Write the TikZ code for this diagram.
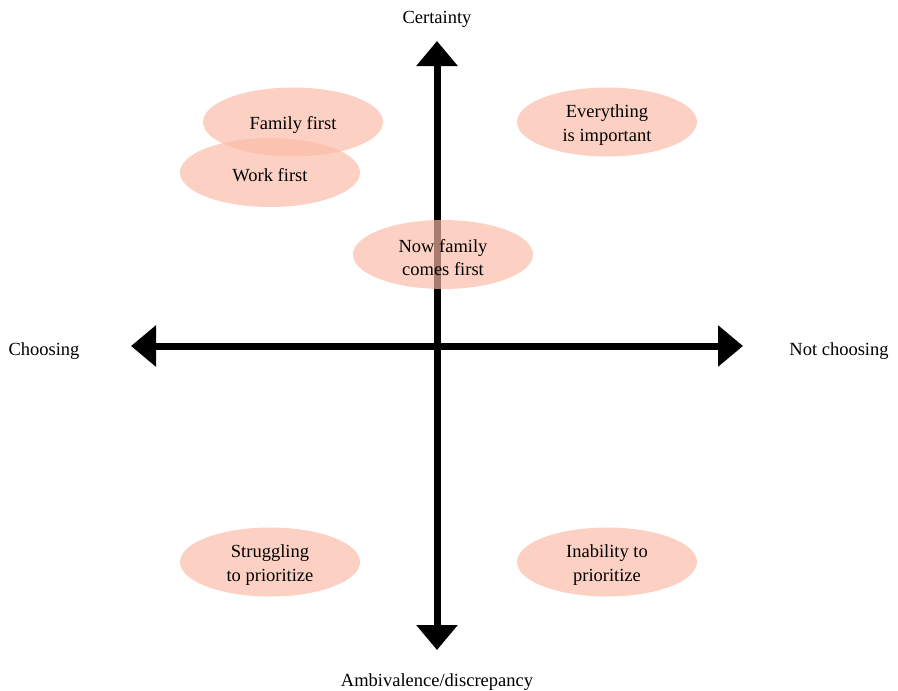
\documentclass[tikz,border=0pt]{standalone}
\usepackage{fontspec}
\setmainfont{Liberation Serif}
\usetikzlibrary{arrows.meta,shapes.geometric}
\definecolor{blobfill}{RGB}{251,187,166}
\tikzset{
  axis/.style={line width=7pt,{Triangle[width=40pt,length=25pt]}-{Triangle[width=40pt,length=25pt]}},
  blob/.style={ellipse,fill=blobfill,fill opacity=0.67,
    minimum width=180pt,minimum height=69pt,inner sep=0pt},
  txt/.style={align=center,inner sep=0pt,font=\fontsize{18.5}{23.5}\selectfont},
  lbl/.style={font=\fontsize{18.5}{23.5}\selectfont,inner sep=0pt}
}
\begin{document}
\begin{tikzpicture}[x=1pt,y=-1pt]
\useasboundingbox (0,0) rectangle (898,691);
% axis end points
\coordinate (top) at (437,41);
\coordinate (bot) at (437,650);
\coordinate (left) at (131,346);
\coordinate (right) at (743,346);
\draw[axis] (bot) -- (top);
\draw[axis] (left) -- (right);
% axis labels
\node[lbl] (certainty) at (437,19) {Certainty};
\node[lbl] (ambiv) at (437,682) {Ambivalence/discrepancy};
\node[lbl] (choosing) at (44,351) {Choosing};
\node[lbl] (notchoosing) at (839,351) {Not choosing};
% positions in the plane
\node[blob] (family) at (293,122) {};
\node[blob] (work) at (270,172.5) {};
\node[blob] (everything) at (607,122) {};
\node[blob] (now) at (443,254.5) {};
\node[blob] (struggling) at (270,562) {};
\node[blob] (inability) at (607,562) {};
\node[txt] (familyt) at ([yshift=-3pt]family.center) {Family first};
\node[txt] (workt) at ([yshift=-3pt]work.center) {Work first};
\node[txt] (everythingt) at ([yshift=-3pt]everything.center) {Everything\\is important};
\node[txt] (nowt) at ([yshift=-3pt]now.center) {Now family\\comes first};
\node[txt] (strugglingt) at ([yshift=-3pt]struggling.center) {Struggling\\to prioritize};
\node[txt] (inabilityt) at ([yshift=-3pt]inability.center) {Inability to\\prioritize};
\end{tikzpicture}
\end{document}
